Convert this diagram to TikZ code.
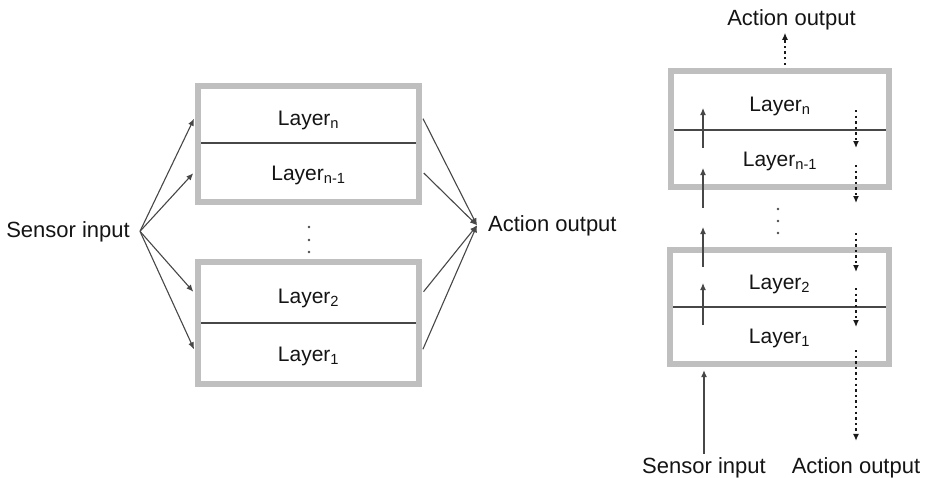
\documentclass[tikz,border=0pt]{standalone}
\usepackage{fontspec}
\setmainfont{Liberation Sans}
\usetikzlibrary{fit,arrows.meta}

\begin{document}
\begin{tikzpicture}[x=1pt,y=-1pt,
  lbl/.style={inner sep=3pt, text=black!92, font=\fontsize{22}{26}\selectfont},
  cell/.style={inner sep=0pt, minimum width=214pt, text=black!92,
    text height=19pt, text depth=1pt, font=\fontsize{21}{25}\selectfont},
  frame/.style={draw=black!25, line width=6pt, inner sep=3pt},
  divider/.style={draw=black!72, line width=1.8pt},
  arr/.style={draw=black!72, line width=1.1pt, -{Latex[length=7pt,width=6pt]}},
  darr/.style={draw=black!90, line width=1.3pt, dash pattern=on 2.4pt off 3.2pt,
    -{Latex[length=7pt,width=6pt]}},
  dotc/.style={fill=black!70}
]
\useasboundingbox (0,0) rectangle (929,477);

% ---------- horizontal architecture ----------
\node[cell, minimum height=54pt] (hN)  at (308.5,116) {Layer\textsubscript{n}};
\node[cell, minimum height=56pt] (hN1) at (308.5,171) {Layer\textsubscript{n-1}};
\node[cell, minimum height=58pt] (h2)  at (308.5,294) {Layer\textsubscript{2}};
\node[cell, minimum height=58pt] (h1)  at (308.5,352) {Layer\textsubscript{1}};
\node[frame, fit=(hN)(hN1)] (hTop) {};
\node[frame, fit=(h2)(h1)] (hBot) {};
\draw[divider] (hN.south west) -- (hN.south east);
\draw[divider] (h2.south west) -- (h2.south east);
\foreach \yy in {227,240,252} \fill[dotc] (309,\yy) circle (1.4pt);

\node[lbl, inner xsep=10pt, anchor=base east] (sinL) at (140,237) {Sensor input};
\node[lbl, inner xsep=11pt, anchor=base west] (aoutL) at (477,231) {Action output};

\foreach \c/\f in {hN/hTop, hN1/hTop, h2/hBot, h1/hBot} {
  \draw[arr, shorten >=3pt] (sinL.east) -- (\c.west -| \f.west);
  \draw[arr, shorten <=3pt] (\c.east -| \f.east) -- (aoutL.west);
}

% ---------- vertical architecture ----------
\node[cell, minimum width=212pt, minimum height=56pt] (vN)  at (780,102) {Layer\textsubscript{n}};
\node[cell, minimum width=212pt, minimum height=54pt] (vN1) at (780,157) {Layer\textsubscript{n-1}};
\node[cell, minimum width=212pt, minimum height=54pt] (v2)  at (779.5,280) {Layer\textsubscript{2}};
\node[cell, minimum width=212pt, minimum height=54pt] (v1)  at (779.5,334) {Layer\textsubscript{1}};
\node[frame, fit=(vN)(vN1)] (vTop) {};
\node[frame, fit=(v2)(v1)] (vBot) {};
\draw[divider] (vN.south west) -- (vN.south east);
\draw[divider] (v2.south west) -- (v2.south east);
\foreach \yy in {209,221,233} \fill[dotc] (778,\yy) circle (1.4pt);

\node[lbl, anchor=base] (aoutT) at (791.5,25) {Action output};
\node[lbl, anchor=base] (sinB)  at (704,473) {Sensor input};
\node[lbl, anchor=base] (aoutB) at (856,473) {Action output};

% upward flow on the left column
\coordinate (u1s) at (703,148); \coordinate (u1e) at (703,108);
\coordinate (u2s) at (703,208); \coordinate (u2e) at (703,168);
\coordinate (u3s) at (703,267); \coordinate (u3e) at (703,227);
\coordinate (u4s) at (703,325); \coordinate (u4e) at (703,283);
\draw[arr] (u1s) -- (u1e);
\draw[arr] (u2s) -- (u2e);
\draw[arr] (u3s) -- (u3e);
\draw[arr] (u4s) -- (u4e);
\draw[arr, shorten >=3pt] (sinB.north) -- (sinB.north |- vBot.south);

% downward flow on the right column
\coordinate (d1s) at (856,110); \coordinate (d1e) at (856,148);
\coordinate (d2s) at (856,165); \coordinate (d2e) at (856,203);
\coordinate (d3s) at (856,233); \coordinate (d3e) at (856,272);
\coordinate (d4s) at (856,288); \coordinate (d4e) at (856,327);
\coordinate (d5s) at (856,350);
\draw[darr] (d1s) -- (d1e);
\draw[darr] (d2s) -- (d2e);
\draw[darr] (d3s) -- (d3e);
\draw[darr] (d4s) -- (d4e);
\draw[darr, shorten >=13pt] (d5s) -- (aoutB.north);

% output leaving the top layer
\coordinate (tA) at (785,65);
\draw[darr] (tA) -- (tA |- aoutT.south);
\end{tikzpicture}
\end{document}
